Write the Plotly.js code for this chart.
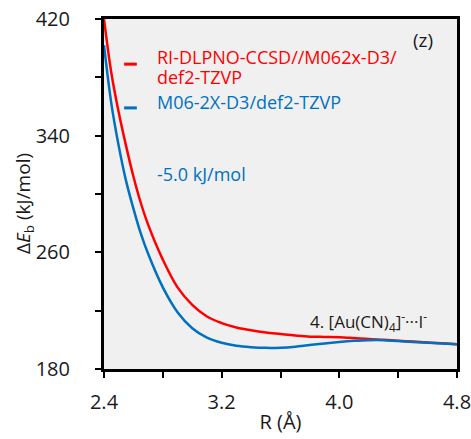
<!DOCTYPE html>
<html>
<head>
<meta charset="utf-8">
<script src="https://cdn.plot.ly/plotly-3.0.1.min.js"></script>
<style>html,body{margin:0;padding:0;background:#fff;}#chart{width:471px;height:439px;}</style>
</head>
<body>
<div id="chart"></div>
<script>
// Data
const R = [2.40, 2.45, 2.50, 2.55, 2.60, 2.65, 2.70, 2.80, 2.90, 3.00, 3.10, 3.20, 3.30, 3.40, 3.50, 3.60, 3.70, 3.80, 3.90, 4.00, 4.10, 4.20, 4.30, 4.40, 4.50, 4.60, 4.70, 4.80];
const dlpno = [420, 383, 356, 333, 312, 294, 279, 255, 236, 224, 216, 211.5, 208.5, 206.5, 205, 204, 203, 202.2, 202, 201.8, 201.2, 200.5, 200, 199.4, 198.8, 198.2, 197.6, 197];
const m062x = [402, 362, 333, 309, 290, 273, 259, 236, 219, 208, 201.5, 198, 196, 195, 194.5, 194.6, 195.3, 196.5, 197.5, 198.5, 199.3, 199.8, 199.8, 199.2, 198.6, 198, 197.5, 197];
const seriesNameLines = ['RI-DLPNO-CCSD//M062x-D3/', 'def2-TZVP'];
const seriesName2 = 'M06-2X-D3/def2-TZVP';
const xTickVals = [2.4, 2.8, 3.2, 3.6, 4.0, 4.4, 4.8];
const xTickText = ['2.4', '', '3.2', '', '4.0', '', '4.8'];
const yTickVals = [180, 220, 260, 300, 340, 380, 420];
const yTickText = ['180', '', '260', '', '340', '', '420'];

const RED = '#ff0000';
const BLUE = '#0070c0';
const FONT = 'Open Sans, sans-serif';
const TXT = '#1a1a1a';

const traces = [
  {x: R, y: dlpno, mode: 'lines', line: {color: RED, width: 2.5, shape: 'spline'}, name: seriesNameLines.join(' ')},
  {x: R, y: m062x, mode: 'lines', line: {color: BLUE, width: 2.5, shape: 'spline'}, name: seriesName2}
];

const layout = {
  width: 471, height: 439,
  margin: {l: 104, r: 14, t: 19, b: 70},
  paper_bgcolor: '#ffffff',
  plot_bgcolor: '#f0f0f0',
  showlegend: false,
  font: {family: FONT, color: TXT, size: 18},
  xaxis: {
    range: [2.4, 4.8], tickvals: xTickVals, ticktext: xTickText,
    ticks: 'outside', ticklen: 6, tickwidth: 2, tickcolor: '#000',
    showline: true, linecolor: '#000', linewidth: 3, mirror: true,
    showgrid: false, zeroline: false,
    tickfont: {size: 20}, ticklabelstandoff: 7, ticklabeloverflow: 'allow',
    title: {text: 'R (Å)', font: {size: 20}, standoff: 1}
  },
  yaxis: {
    range: [180, 420], tickvals: yTickVals, ticktext: yTickText,
    ticks: 'outside', ticklen: 6, tickwidth: 2, tickcolor: '#000',
    showline: true, linecolor: '#000', linewidth: 3, mirror: true,
    showgrid: false, zeroline: false,
    tickfont: {size: 20}, ticklabelstandoff: 21, ticklabeloverflow: 'allow'
  },
  shapes: [
    {type: 'line', xref: 'paper', yref: 'paper', x0: 0.057, x1: 0.093, y0: 0.871, y1: 0.871, line: {color: RED, width: 3}},
    {type: 'line', xref: 'paper', yref: 'paper', x0: 0.057, x1: 0.093, y0: 0.746, y1: 0.746, line: {color: BLUE, width: 3}}
  ],
  annotations: [
    {xref: 'paper', yref: 'paper', x: -0.227, y: 0.474, xanchor: 'center', yanchor: 'middle', textangle: -90, showarrow: false,
     text: 'Δ<i>E</i><sub>b</sub> (kJ/mol)', font: {size: 19, color: TXT}},
    {xref: 'paper', yref: 'paper', x: 0.144, y: 0.891, xanchor: 'left', yanchor: 'middle', showarrow: false,
     text: seriesNameLines[0], font: {color: RED, size: 18}},
    {xref: 'paper', yref: 'paper', x: 0.144, y: 0.833, xanchor: 'left', yanchor: 'middle', showarrow: false,
     text: seriesNameLines[1], font: {color: RED, size: 18}},
    {xref: 'paper', yref: 'paper', x: 0.144, y: 0.763, xanchor: 'left', yanchor: 'middle', showarrow: false,
     text: seriesName2, font: {color: BLUE, size: 18}},
    {xref: 'paper', yref: 'paper', x: 0.144, y: 0.557, xanchor: 'left', yanchor: 'middle', showarrow: false,
     text: '-5.0 kJ/mol', font: {color: BLUE, size: 18}},
    {xref: 'paper', yref: 'paper', x: 0.904, y: 0.94, xanchor: 'center', yanchor: 'middle', showarrow: false,
     text: '(z)', font: {color: TXT, size: 19}},
    {xref: 'paper', yref: 'paper', x: 0.578, y: 0.137, xanchor: 'left', yanchor: 'middle', showarrow: false,
     text: '4. [Au(CN)<sub>4</sub>]<sup>-</sup>···I<sup>-</sup>', font: {color: TXT, size: 17}}
  ]
};

Plotly.newPlot('chart', traces, layout, {displayModeBar: false, staticPlot: true});
</script>
</body>
</html>
